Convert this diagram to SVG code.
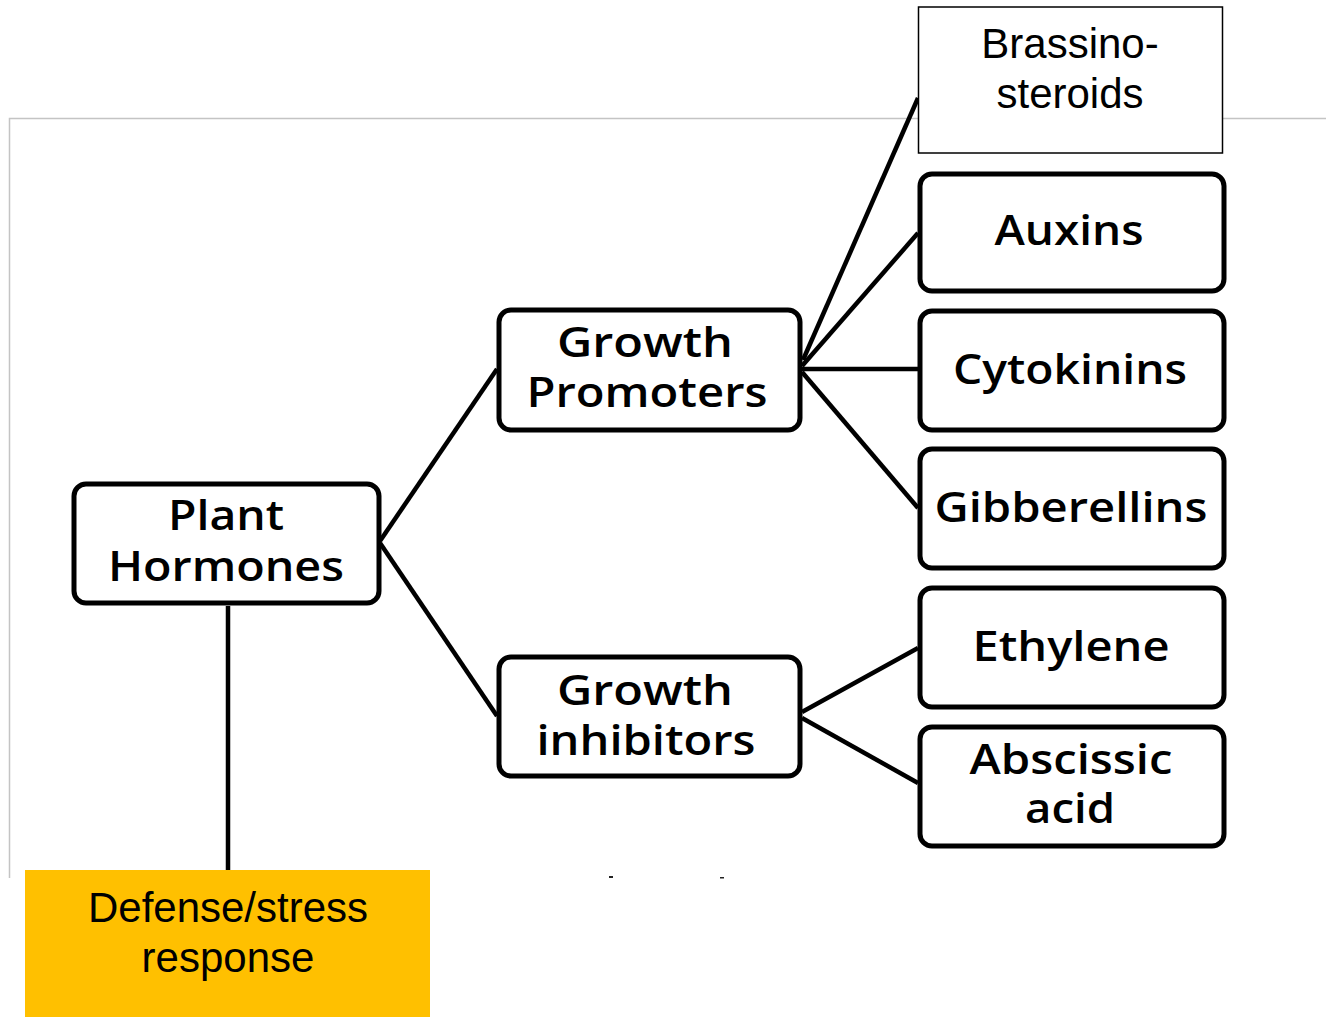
<svg xmlns="http://www.w3.org/2000/svg" width="1326" height="1019" viewBox="0 0 1326 1019">
<style>
.box{fill:#fff;stroke:#000;stroke-width:5}
.t{font-family:"Open Sans","Noto Sans",sans-serif;font-size:41px;font-weight:600;fill:#000;text-anchor:middle}
.a{font-family:"Liberation Sans",Arial,sans-serif;font-size:42px;fill:#000;text-anchor:middle}
.c{stroke:#000;stroke-width:4.5;fill:none}
</style>
<rect width="1326" height="1019" fill="#fff"/>
<g id="frame" stroke="#c4c4c4" stroke-width="1.5" fill="none">
<path d="M9.5 878 V118.5 H1326"/>
</g>
<g id="connectors">
<line class="c" x1="380" y1="541" x2="497" y2="369"/>
<line class="c" x1="380" y1="543" x2="497" y2="716"/>
<line class="c" x1="802" y1="366" x2="918" y2="233"/>
<line class="c" x1="802" y1="369" x2="918" y2="369"/>
<line class="c" x1="802" y1="372" x2="918" y2="508"/>
<line class="c" x1="802" y1="712" x2="918" y2="648"/>
<line class="c" x1="802" y1="718" x2="918" y2="783"/>
<line class="c" x1="803" y1="360" x2="918" y2="98" stroke-width="5"/>
<line class="c" x1="228" y1="606" x2="228" y2="871" stroke-width="6"/>
</g>
<g id="plant-hormones">
<rect class="box" x="74" y="484" width="305" height="119" rx="12"/>
<text class="t" x="226" y="530" textLength="116" lengthAdjust="spacingAndGlyphs">Plant</text>
<text class="t" x="226" y="581" textLength="236" lengthAdjust="spacingAndGlyphs">Hormones</text>
</g>
<g id="growth-promoters">
<rect class="box" x="499" y="310" width="301" height="120" rx="12"/>
<text class="t" x="645" y="357" textLength="176" lengthAdjust="spacingAndGlyphs">Growth</text>
<text class="t" x="647" y="407" textLength="241" lengthAdjust="spacingAndGlyphs">Promoters</text>
</g>
<g id="growth-inhibitors">
<rect class="box" x="499" y="657" width="301" height="119" rx="12"/>
<text class="t" x="645" y="705" textLength="176" lengthAdjust="spacingAndGlyphs">Growth</text>
<text class="t" x="646" y="755" textLength="219" lengthAdjust="spacingAndGlyphs">inhibitors</text>
</g>
<g id="brassinosteroids">
<rect x="918.5" y="7" width="304" height="146" fill="#fff" stroke="#000" stroke-width="1.5"/>
<text class="a" x="1070" y="58">Brassino-</text>
<text class="a" x="1070" y="108">steroids</text>
</g>
<g id="auxins">
<rect class="box" x="920" y="174" width="304" height="117" rx="12"/>
<text class="t" x="1069" y="245" textLength="149" lengthAdjust="spacingAndGlyphs">Auxins</text>
</g>
<g id="cytokinins">
<rect class="box" x="920" y="311" width="304" height="119" rx="12"/>
<text class="t" x="1070" y="384" textLength="234" lengthAdjust="spacingAndGlyphs">Cytokinins</text>
</g>
<g id="gibberellins">
<rect class="box" x="920" y="449" width="304" height="119" rx="12"/>
<text class="t" x="1071" y="522" textLength="273" lengthAdjust="spacingAndGlyphs">Gibberellins</text>
</g>
<g id="ethylene">
<rect class="box" x="920" y="588" width="304" height="119" rx="12"/>
<text class="t" x="1071" y="661" textLength="197" lengthAdjust="spacingAndGlyphs">Ethylene</text>
</g>
<g id="abscissic-acid">
<rect class="box" x="920" y="727" width="304" height="119" rx="12"/>
<text class="t" x="1071" y="774" textLength="203" lengthAdjust="spacingAndGlyphs">Abscissic</text>
<text class="t" x="1070" y="823" textLength="90" lengthAdjust="spacingAndGlyphs">acid</text>
</g>
<g id="fragments" fill="#222">
<rect x="609" y="876" width="4" height="2"/>
<rect x="720" y="877" width="4" height="1.5"/>
</g>
<g id="defense-stress">
<rect x="25" y="870" width="405" height="147" fill="#FFC000"/>
<text class="a" x="228" y="922">Defense/stress</text>
<text class="a" x="228" y="972">response</text>
</g>
</svg>
